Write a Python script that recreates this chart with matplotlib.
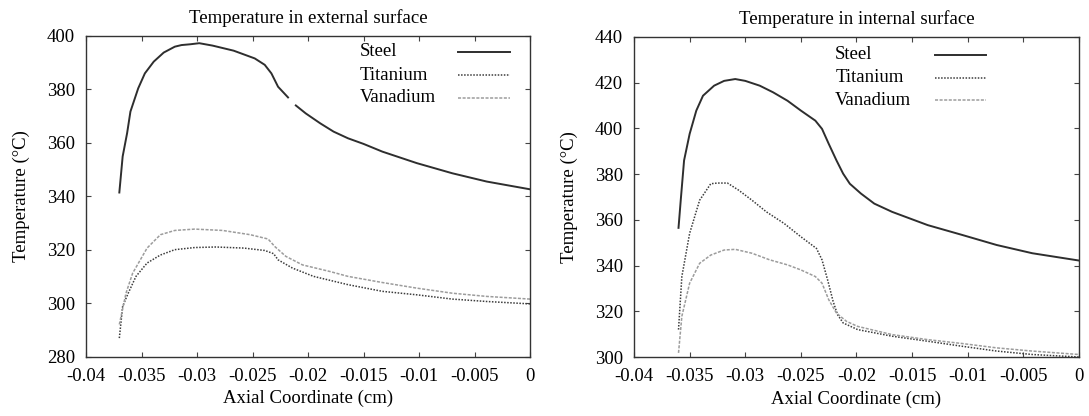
import numpy as np
import matplotlib
matplotlib.use("Agg")
import matplotlib.pyplot as plt

plt.rcParams['font.family'] = ['Liberation Serif', 'DejaVu Serif']

# ---- External surface (left) ----
ext_steel_x = [-0.0370, -0.0367, -0.0363, -0.0360, -0.0353, -0.0347, -0.0339, -0.0330, -0.0320,
               -0.0314, -0.0306, -0.0298, -0.0286, -0.0267, -0.0248, -0.0239, -0.0233, -0.0227,
               -0.0218, -0.0215, -0.0211, -0.0202, -0.0189, -0.0177, -0.0164, -0.0150, -0.0133,
               -0.0102, -0.0070, -0.0039, 0.0]
ext_steel_y = [341.4, 354.9, 363.6, 371.7, 380.4, 386.0, 390.4, 393.8, 396.0,
               396.6, 396.9, 397.3, 396.4, 394.5, 391.6, 389.2, 386.0, 381.0,
               377.0, np.nan, 374.0, 371.0, 367.3, 364.2, 361.7, 359.6, 356.7,
               352.4, 348.6, 345.5, 342.6]

ext_ti_x = [-0.0370, -0.0367, -0.0362, -0.0355, -0.0345, -0.0333, -0.0320, -0.0302, -0.0283,
            -0.0258, -0.0239, -0.0231, -0.0227, -0.0214, -0.0195, -0.0164, -0.0133, -0.0102,
            -0.0070, -0.0039, 0.0]
ext_ti_y = [286.9, 298.8, 303.7, 310.0, 315.0, 318.0, 320.0, 320.8, 321.0,
            320.6, 319.7, 318.5, 316.2, 313.1, 310.0, 306.9, 304.4, 303.1,
            301.5, 300.6, 299.7]

ext_va_x = [-0.0370, -0.0364, -0.0358, -0.0345, -0.0333, -0.0320, -0.0302, -0.0277, -0.0252,
            -0.0236, -0.0230, -0.0220, -0.0205, -0.0180, -0.0164, -0.0133, -0.0102, -0.0070,
            -0.0039, 0.0]
ext_va_y = [292.0, 303.7, 311.2, 320.6, 325.6, 327.2, 327.7, 327.2, 325.6,
            324.0, 321.2, 317.5, 314.3, 311.8, 310.0, 307.7, 305.6, 303.7,
            302.5, 301.5]

# ---- Internal surface (right) ----
int_steel_x = [-0.0360, -0.0358, -0.0355, -0.0350, -0.0344, -0.0338, -0.0328, -0.0319, -0.0309,
               -0.0300, -0.0287, -0.0275, -0.0262, -0.0250, -0.0237, -0.0231, -0.0225, -0.0218,
               -0.0212, -0.0206, -0.0196, -0.0184, -0.0168, -0.0136, -0.0105, -0.0074, -0.0042, 0.0]
int_steel_y = [356.5, 368.6, 386.0, 397.6, 407.8, 414.3, 418.7, 420.8, 421.6,
               420.8, 418.7, 415.8, 412.1, 407.8, 403.4, 399.8, 393.3, 386.0,
               380.2, 375.8, 371.5, 367.1, 363.5, 357.7, 353.4, 349.0, 345.4, 342.2]

int_ti_x = [-0.0360, -0.0357, -0.0350, -0.0341, -0.0331, -0.0325, -0.0316, -0.0306, -0.0294,
            -0.0281, -0.0265, -0.0250, -0.0236, -0.0231, -0.0226, -0.0221, -0.0217, -0.0212,
            -0.0199, -0.0168, -0.0136, -0.0105, -0.0074, -0.0042, 0.0]
int_ti_y = [312.0, 335.2, 354.1, 368.6, 375.8, 376.1, 376.1, 373.0, 368.6,
            363.5, 358.4, 352.6, 347.5, 342.5, 333.8, 324.3, 318.5, 314.9,
            312.0, 309.1, 306.9, 304.7, 302.6, 301.1, 300.0]

int_va_x = [-0.0360, -0.0357, -0.0350, -0.0341, -0.0331, -0.0319, -0.0309, -0.0294, -0.0278,
            -0.0262, -0.0250, -0.0237, -0.0231, -0.0225, -0.0218, -0.0209, -0.0199, -0.0168,
            -0.0136, -0.0105, -0.0074, -0.0042, 0.0]
int_va_y = [301.8, 317.8, 332.3, 341.0, 344.6, 346.8, 347.1, 345.4, 342.5,
            340.3, 338.1, 335.2, 332.3, 325.1, 319.2, 315.6, 313.4, 309.8,
            307.6, 305.9, 304.0, 302.6, 301.1]

series_names = ['Steel', 'Titanium', 'Vanadium']
x_ticks = [-0.04, -0.035, -0.03, -0.025, -0.02, -0.015, -0.01, -0.005, 0]
x_ticklabels = ['-0.04', '-0.035', '-0.03', '-0.025', '-0.02', '-0.015', '-0.01', '-0.005', '0']

fig = plt.figure(figsize=(10.89, 4.16), dpi=100)
ax1 = fig.add_axes([0.0790, 0.1430, 0.4077, 0.7705])
ax2 = fig.add_axes([0.5822, 0.1418, 0.4086, 0.7693])

styles = [dict(color='#2e2e2e', lw=1.4, ls='-'),
          dict(color='#3c3c3c', lw=1.1, ls=(0, (1, 1))),
          dict(color='#9c9c9c', lw=1.1, ls=(0, (2, 1)))]

FS = 13.5

def draw(ax, data, title, ylim, yticks, leg_text_x, leg_line_x, leg_rows_y):
    for (x, y), name, st in zip(data, series_names, styles):
        ax.plot(x, y, label=name, **st)
    ax.set_xlim(-0.04, 0)
    ax.set_ylim(*ylim)
    ax.set_xticks(x_ticks)
    ax.set_xticklabels(x_ticklabels)
    ax.set_yticks(yticks)
    ax.tick_params(direction='in', top=True, right=True, length=3.5, width=0.8,
                   labelsize=FS, color='#444444')
    ax.tick_params(axis='x', pad=8)
    ax.tick_params(axis='y', pad=8)
    ax.set_title(title, fontsize=FS, pad=9)
    ax.set_xlabel('Axial Coordinate (cm)', fontsize=FS, labelpad=4)
    ax.set_ylabel('Temperature (°C)', fontsize=FS, labelpad=12)
    for s in ax.spines.values():
        s.set_linewidth(1.0)
        s.set_color('#333333')
    # legend: label on the left, line sample on the right (gnuplot style)
    for name, st, yy in zip(series_names, styles, leg_rows_y):
        ax.text(leg_text_x, yy, name, transform=ax.transAxes, fontsize=FS,
                ha='left', va='center')
        ax.plot(leg_line_x, [yy, yy], transform=ax.transAxes, clip_on=False, **st)

draw(ax1, [(ext_steel_x, ext_steel_y), (ext_ti_x, ext_ti_y), (ext_va_x, ext_va_y)],
     'Temperature in external surface', (280, 400), [280, 300, 320, 340, 360, 380, 400],
     0.617, [0.838, 0.955], [0.951, 0.878, 0.807])
draw(ax2, [(int_steel_x, int_steel_y), (int_ti_x, int_ti_y), (int_va_x, int_va_y)],
     'Temperature in internal surface', (300, 440), [300, 320, 340, 360, 380, 400, 420, 440],
     0.452, [0.676, 0.791], [0.944, 0.872, 0.803])

fig.savefig('out.png', dpi=100)
